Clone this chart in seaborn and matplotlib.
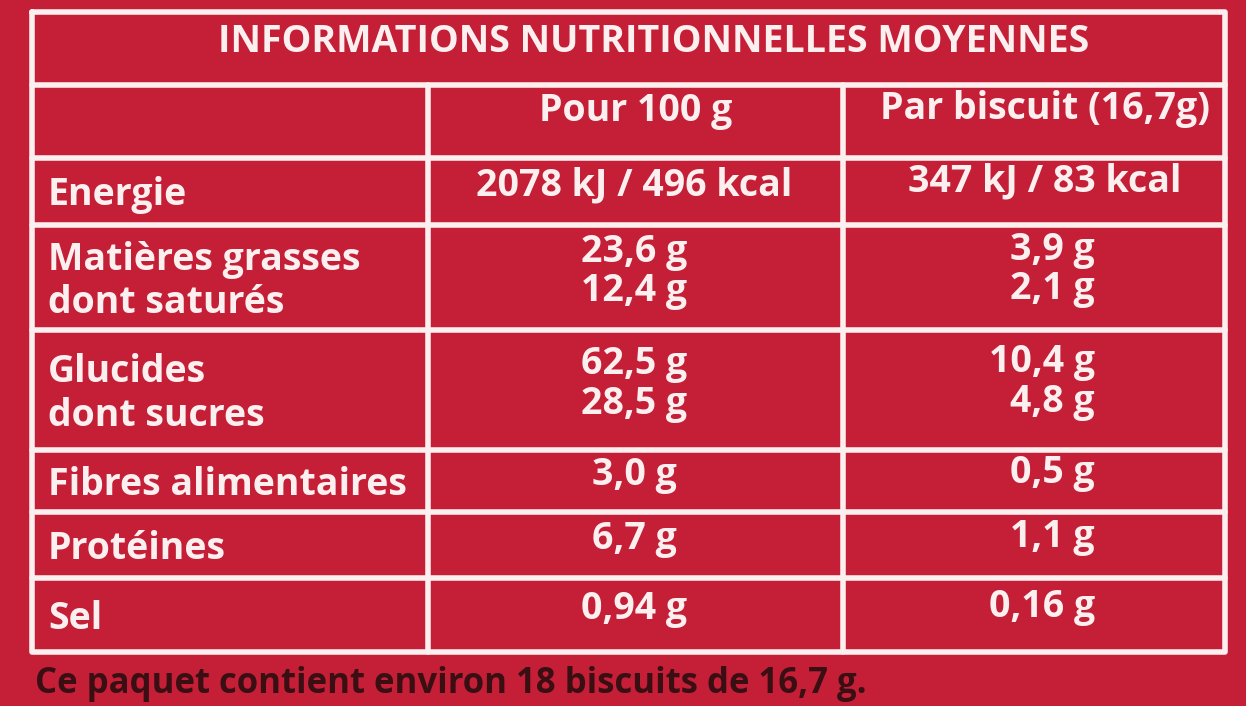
import matplotlib
matplotlib.use("Agg")
import matplotlib.pyplot as plt
import seaborn as sns

title = "INFORMATIONS NUTRITIONNELLES MOYENNES"
col_headers = ["Pour 100 g", "Par biscuit (16,7g)"]
row_labels = ["Energie", "Matières grasses\ndont saturés", "Glucides\ndont sucres",
              "Fibres alimentaires", "Protéines", "Sel"]
per_100g = ["2078 kJ / 496 kcal", "23,6 g\n12,4 g", "62,5 g\n28,5 g", "3,0 g", "6,7 g", "0,94 g"]
per_biscuit = ["347 kJ / 83 kcal", "3,9 g\n2,1 g", "10,4 g\n4,8 g", "0,5 g", "1,1 g", "0,16 g"]
footer = "Ce paquet contient environ 18 biscuits de 16,7 g."

row_edges = [12, 85, 158, 225, 330, 450, 512, 578, 652]
col_edges = [32, 428, 843, 1225]

sns.set_theme(style="white")
fig = plt.figure(figsize=(12.46, 7.06), dpi=100)
fig.patch.set_facecolor("#c41f36")
ax = fig.add_axes([0, 0, 1, 1])
ax.set_facecolor("#c41f36")
ax.set_xlim(0, 1246)
ax.set_ylim(706, 0)
ax.axis("off")

lw = 4
w = "#fbeff0"
ax.plot([col_edges[0], col_edges[-1], col_edges[-1], col_edges[0], col_edges[0]],
        [row_edges[0], row_edges[0], row_edges[-1], row_edges[-1], row_edges[0]], color=w, lw=lw)
for y in row_edges[1:-1]:
    ax.plot([col_edges[0], col_edges[-1]], [y, y], color=w, lw=lw)
for x in col_edges[1:-1]:
    ax.plot([x, x], [row_edges[1], row_edges[-1]], color=w, lw=lw)

fs = 27
font = dict(family="Open Sans", weight="bold", color=w)
ax.text((col_edges[0] + col_edges[-1]) / 2 + 25, (row_edges[0] + row_edges[1]) / 2 - 6, title,
        ha="center", va="center", fontsize=fs, **font)
ax.text(636, (row_edges[1] + row_edges[2]) / 2 - 10, col_headers[0],
        ha="center", va="center", fontsize=fs, **font)
ax.text(1045, (row_edges[1] + row_edges[2]) / 2 - 12, col_headers[1],
        ha="center", va="center", fontsize=fs, **font)
for r, (lab, a, b) in enumerate(zip(row_labels, per_100g, per_biscuit)):
    y0, y1 = row_edges[r + 2], row_edges[r + 3]
    ym = (y0 + y1) / 2
    ax.text(48, ym + 4, lab, ha="left", va="center", fontsize=fs, linespacing=1.2, **font)
    ax.text(634, ym - 6, a, ha="center", va="center", fontsize=fs, linespacing=1.05, **font)
    if r == 0:
        ax.text(1045, ym - 10, b, ha="center", va="center", fontsize=fs, **font)
    else:
        ax.text(1095, ym - 8, b, ha="right", va="center", fontsize=fs, linespacing=1.05, **font)
ax.text(35, 684, footer, ha="left", va="center", fontsize=25, family="Open Sans",
        weight="bold", color="#3a0f14")

fig.savefig("out.png", dpi=100, facecolor=fig.get_facecolor())
